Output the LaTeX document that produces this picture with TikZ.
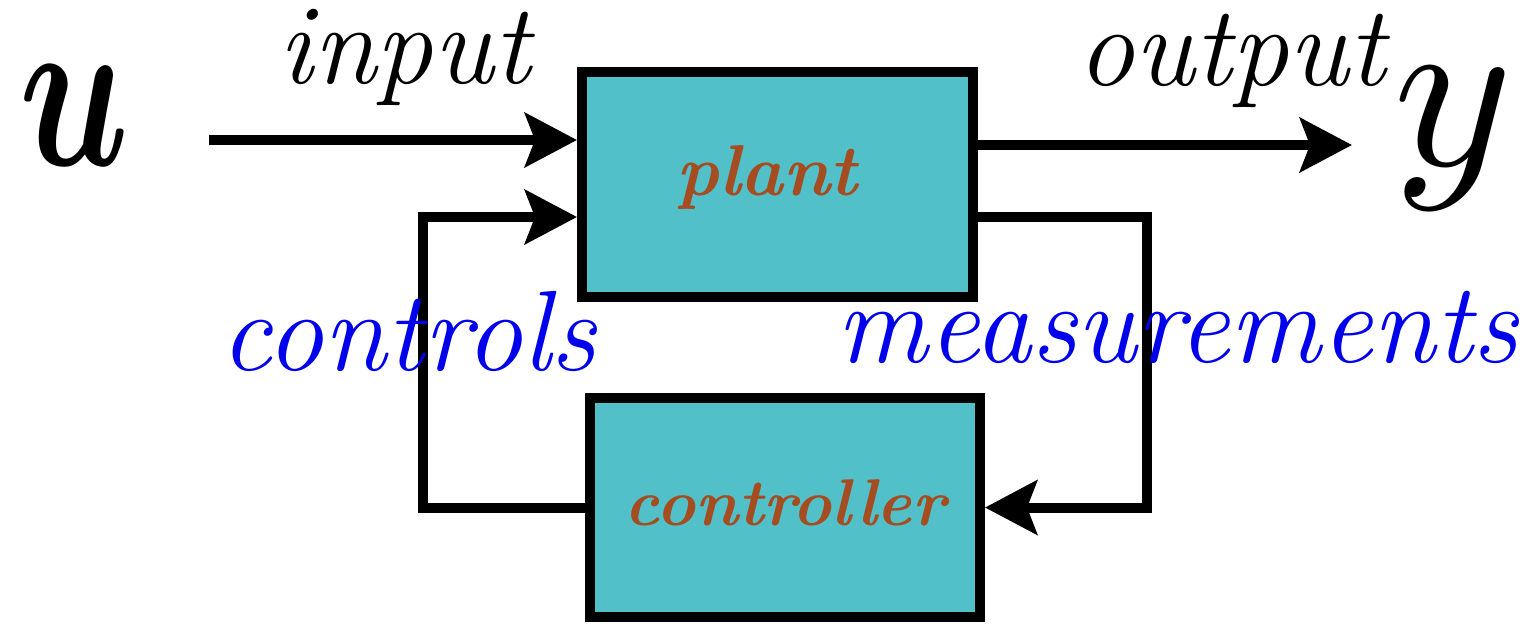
\documentclass[tikz,border=0pt]{standalone}
\usepackage{bm}
\usetikzlibrary{arrows.meta,calc}
\definecolor{boxfill}{RGB}{82,192,200}
\definecolor{lblbrown}{RGB}{165,76,32}
\definecolor{lblblue}{RGB}{0,0,235}
\tikzset{
  blockbox/.style={draw=black, fill=boxfill, line width=0.1cm, inner sep=0pt, minimum width=#1},
  wire/.style={line width=0.1cm, line join=miter},
  arr/.style={wire, -{Stealth[length=0.52cm, width=0.54cm, inset=0.1cm]}},
  biglbl/.style={anchor=base, inner sep=0pt, font=\fontsize{32.5}{36}\selectfont\itshape},
  sidelbl/.style={biglbl, text=lblblue},
  boxlbl/.style={anchor=base, inner sep=0pt, text=lblbrown, font=\fontsize{#1}{24}\selectfont\bfseries\itshape},
  varlbl/.style={anchor=base, inner sep=0pt}
}
\begin{document}
\begin{tikzpicture}
\useasboundingbox (0,0) rectangle (15.3,-6.23);
% blocks
\node[blockbox=3.91cm, minimum height=2.25cm] (plant) at (7.775,-1.845) {};
\node[blockbox=3.90cm, minimum height=2.19cm] (ctrl) at (7.85,-5.075) {};
% coordinates
\coordinate (uin) at (2.09,-1.40);
\coordinate (yout) at (13.52,-1.45);
\coordinate (fbl) at (4.23,-2.17);
\coordinate (fbr) at (11.47,-2.17);
% connectors
\draw[arr] (uin) -- (uin -| plant.west);
\draw[arr] (yout -| plant.east) -- (yout);
\draw[arr] (ctrl.west) -| (fbl) -- (fbl -| plant.west);
\draw[arr] (fbr -| plant.east) -- (fbr) |- (ctrl.east);
% labels
\node[boxlbl=20.5] (plantlbl) at (7.67,-1.95) {plant};
\node[boxlbl=18.8] (ctrllbl) at (7.85,-5.25) {controller};
\node[biglbl] (inlbl) at (4.045,-0.83) {input};
\node[biglbl] (outlbl) at (12.315,-0.85) {output};
\node[sidelbl] (ctllbl) at (4.085,-3.70) {controls};
\node[sidelbl] (measlbl) at (11.775,-3.62) {measurements};
\node[varlbl] (ulbl) at (0.75,-1.65) {\resizebox{1.10cm}{1.0cm}{$\bm{u}$}};
\node[varlbl] (ylbl) at (14.53,-1.65) {\resizebox*{!}{1.42cm}{$y$}};
\end{tikzpicture}
\end{document}
